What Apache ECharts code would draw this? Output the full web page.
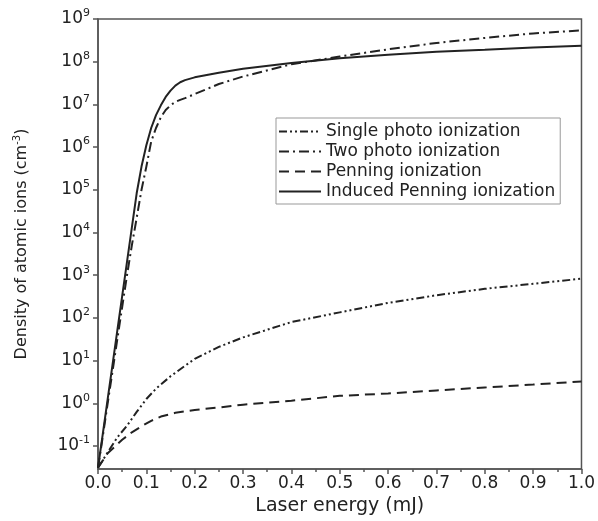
<!DOCTYPE html>
<html>
    <head>
        <meta charset="utf-8">
        <title>Density of atomic ions</title>
        <style>
            body{
                margin:0;
                background-color:#FFFFFF;
            }
            #main{
                width:598px;
                height:521px;
            }
        </style>
    </head>
    <body>
        <div id="main"></div>

        <script src="https://cdn.jsdelivr.net/npm/echarts@6/dist/echarts.min.js"></script>
        <script>
            // laser energy (mJ) and density (cm^-3)
            var seriesNames = ["Single photo ionization", "Two photo ionization", "Penning ionization", "Induced Penning ionization"];

            var singleX = [0, 0.02, 0.04, 0.06, 0.08, 0.1, 0.12, 0.15, 0.2, 0.25, 0.3, 0.4, 0.5, 0.6, 0.7, 0.8, 0.9, 1.0];
            var singleY = [0.031, 0.071, 0.16, 0.3, 0.63, 1.26, 2.2, 4.3, 11, 21, 35, 80, 135, 225, 340, 480, 630, 830];

            var twoX = [0, 0.01, 0.02, 0.03, 0.04, 0.05, 0.06, 0.07, 0.08, 0.09, 0.1, 0.11, 0.12, 0.13, 0.14, 0.15, 0.16, 0.17, 0.18, 0.2, 0.25, 0.3, 0.4, 0.5, 0.6, 0.7, 0.8, 0.9, 1.0];
            var twoY = [0.031, 0.17, 1.0, 5.6, 32, 180, 1000, 5000, 22000, 1e5, 3.5e5, 1.35e6, 2.8e6, 5e6, 7.4e6, 9.5e6, 1.15e7, 1.28e7, 1.4e7, 1.75e7, 3e7, 4.5e7, 8.7e7, 1.32e8, 1.95e8, 2.75e8, 3.6e8, 4.6e8, 5.4e8];

            var penningX = [0, 0.02, 0.05, 0.07, 0.09, 0.11, 0.13, 0.16, 0.2, 0.25, 0.3, 0.4, 0.5, 0.6, 0.7, 0.8, 0.9, 1.0];
            var penningY = [0.031, 0.068, 0.14, 0.21, 0.29, 0.39, 0.49, 0.6, 0.7, 0.8, 0.93, 1.15, 1.5, 1.7, 2.0, 2.35, 2.75, 3.25];

            var inducedX = [0, 0.01, 0.02, 0.03, 0.04, 0.05, 0.06, 0.07, 0.08, 0.09, 0.1, 0.11, 0.12, 0.13, 0.14, 0.15, 0.16, 0.17, 0.18, 0.2, 0.25, 0.3, 0.4, 0.5, 0.6, 0.7, 0.8, 0.9, 1.0];
            var inducedY = [0.031, 0.195, 1.26, 8, 51, 325, 2050, 13000, 83000, 3.5e5, 1.1e6, 2.8e6, 5.6e6, 9.5e6, 1.5e7, 2.1e7, 2.75e7, 3.3e7, 3.7e7, 4.3e7, 5.5e7, 6.8e7, 9.3e7, 1.2e8, 1.45e8, 1.7e8, 1.9e8, 2.15e8, 2.35e8];

            var yTicks = [0.1, 1, 10, 100, 1e3, 1e4, 1e5, 1e6, 1e7, 1e8, 1e9];

            function pairs(xs, ys){
                var out = [];
                for(var i = 0; i < xs.length; i++){
                    out.push([xs[i], ys[i]]);
                }
                return out;
            }

            var lineColor = "#222222";
            var axisColor = "#555555";
            var font = "DejaVu Sans";

            function makeSeries(name, xs, ys, dash){
                return {
                    name: name,
                    type: 'line',
                    data: pairs(xs, ys),
                    symbol: 'none',
                    smooth: false,
                    lineStyle: {color: lineColor, width: 2, type: dash},
                    itemStyle: {color: lineColor}
                };
            }

            var myChart = echarts.init(document.getElementById('main'));

            var option = {
                animation: false,
                textStyle: {fontFamily: font, color: '#222'},
                grid: {
                    left: 98, right: 15, top: 19, bottom: 52,
                    show: true, borderColor: axisColor, borderWidth: 1.5
                },
                legend: {
                    orient: 'vertical',
                    left: 276, top: 118,
                    padding: [5, 5, 4, 2],
                    itemWidth: 42, itemHeight: 14, itemGap: 3,
                    borderColor: '#999', borderWidth: 1,
                    backgroundColor: '#fff',
                    itemStyle: {opacity: 0},
                    textStyle: {fontFamily: font, fontSize: 17, color: '#222', lineHeight: 17},
                    data: seriesNames
                },
                xAxis: {
                    type: 'value',
                    min: 0, max: 1, interval: 0.1,
                    name: 'Laser energy (mJ)',
                    nameLocation: 'middle',
                    nameGap: 26,
                    nameTextStyle: {fontFamily: font, fontSize: 19, color: '#222'},
                    axisLine: {lineStyle: {color: axisColor, width: 1.5}},
                    axisTick: {length: 5, lineStyle: {color: axisColor, width: 1.5}},
                    minorTick: {show: true, splitNumber: 2, length: 3, lineStyle: {color: axisColor, width: 1.5}},
                    axisLabel: {
                        fontSize: 17, color: '#222', margin: 6,
                        formatter: function(v){ return v.toFixed(1); }
                    },
                    splitLine: {show: false}
                },
                yAxis: {
                    type: 'log',
                    logBase: 10,
                    min: 0.029, max: 1e9,
                    name: '{n|Density of atomic ions (cm}{s|-3}{n|)}',
                    nameLocation: 'middle',
                    nameGap: 66,
                    nameTextStyle: {
                        rich: {
                            n: {fontFamily: font, fontSize: 16, color: '#222', lineHeight: 20},
                            s: {fontFamily: font, fontSize: 10, color: '#222', verticalAlign: 'top', lineHeight: 10}
                        }
                    },
                    axisLine: {lineStyle: {color: axisColor, width: 1.5}},
                    axisTick: {length: 5, customValues: yTicks, lineStyle: {color: axisColor, width: 1.5}},
                    axisLabel: {
                        margin: 8,
                        customValues: yTicks,
                        formatter: function(v){
                            var e = Math.round(Math.log10(v));
                            return '{b|10}{s|' + e + '}';
                        },
                        rich: {
                            b: {fontFamily: font, fontSize: 17, color: '#222', lineHeight: 22},
                            s: {fontFamily: font, fontSize: 11, color: '#222', verticalAlign: 'top', lineHeight: 11}
                        }
                    },
                    splitLine: {show: false}
                },
                series: [
                    makeSeries(seriesNames[0], singleX, singleY, [8, 3, 2, 3, 2, 3]),
                    makeSeries(seriesNames[1], twoX, twoY, [10, 4, 2, 4]),
                    makeSeries(seriesNames[2], penningX, penningY, [10, 6]),
                    makeSeries(seriesNames[3], inducedX, inducedY, 'solid')
                ]
            };

            myChart.setOption(option);
        </script>
    </body>
</html>
